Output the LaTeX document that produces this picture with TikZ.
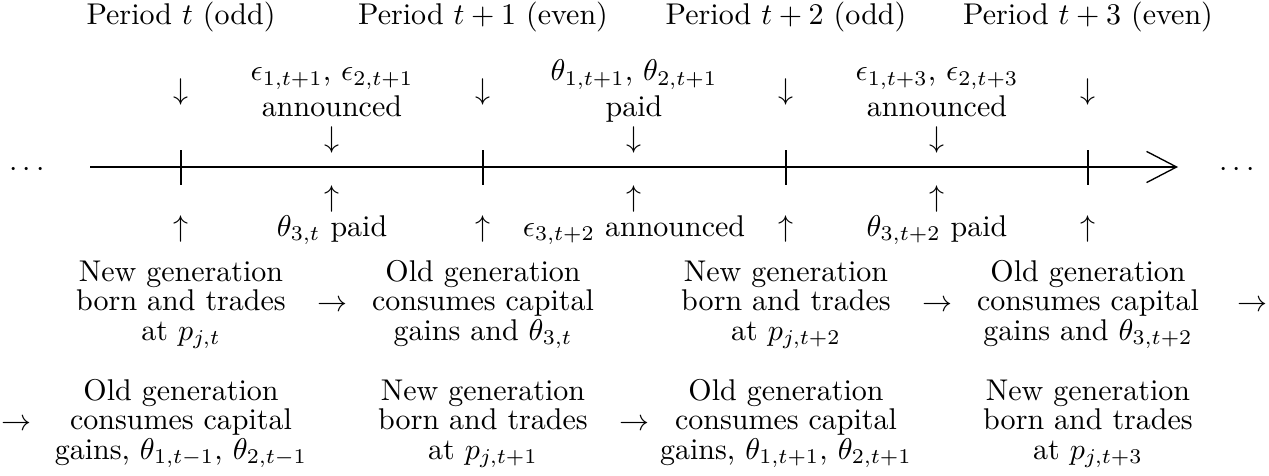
\documentclass[tikz,border=0pt]{standalone}
\usetikzlibrary{arrows.meta}
\begin{document}
\begin{tikzpicture}[x=0.33333pt,y=-0.33333pt,
  txt/.style={inner sep=0pt,outer sep=0pt,anchor=base},
  lab/.style={txt,align=center,text depth=0pt},
  blk/.style={txt,align=center,font=\fontsize{10}{9.7}\selectfont},
  tl/.style={line width=0.5pt},
  tickln/.style={line width=0.45pt}]
\useasboundingbox (0,0) rectangle (1269,476);
% period labels
\node[txt] (p0) at (181,25) {Period $t$ (odd)};
\node[txt] (p1) at (483,25) {Period $t+1$ (even)};
\node[txt] (p2) at (786,25) {Period $t+2$ (odd)};
\node[txt] (p3) at (1088,25) {Period $t+3$ (even)};
% top arrows at ticks
\node[txt] (da0) at (181,100) {$\downarrow$};
\node[txt] (da1) at (483,100) {$\downarrow$};
\node[txt] (da2) at (786,100) {$\downarrow$};
\node[txt] (da3) at (1088,100) {$\downarrow$};
% top middle labels (base = last line)
\node[lab] (e1) at (332,117) {$\epsilon_{1,t+1}$, $\epsilon_{2,t+1}$\\announced};
\node[lab] (th1) at (634,117) {$\theta_{1,t+1}$, $\theta_{2,t+1}$\\paid};
\node[lab] (e3) at (937,117) {$\epsilon_{1,t+3}$, $\epsilon_{2,t+3}$\\announced};
% middle arrows above line
\node[txt] (md0) at (332,147) {$\downarrow$};
\node[txt] (md1) at (634,147) {$\downarrow$};
\node[txt] (md2) at (937,147) {$\downarrow$};
% timeline
\coordinate (ls) at (90,167);
\coordinate (le) at (1178,167);
\draw[tl,-{Straight Barb[length=10pt,width=10.4pt,line width=0.45pt]}] (ls) -- (le);
\foreach \x/\n in {181/0,483/1,786/2,1088/3}{
  \coordinate (tt\n) at (\x,150);
  \coordinate (tb\n) at (\x,185);
  \draw[tickln] (tt\n) -- (tb\n);
}
\node[txt] (dl) at (27,177) {$\cdots$};
\node[txt] (dr) at (1237,177) {$\cdots$};
% middle arrows below line
\node[txt] (mu0) at (332,206) {$\uparrow$};
\node[txt] (mu1) at (634,206) {$\uparrow$};
\node[txt] (mu2) at (937,206) {$\uparrow$};
% bottom arrows at ticks
\node[txt] (ua0) at (181,236) {$\uparrow$};
\node[txt] (ua1) at (483,236) {$\uparrow$};
\node[txt] (ua2) at (786,236) {$\uparrow$};
\node[txt] (ua3) at (1088,236) {$\uparrow$};
% bottom middle labels
\node[txt] (b1) at (332,236) {$\theta_{3,t}$ paid};
\node[txt] (b2) at (634,236) {$\epsilon_{3,t+2}$ announced};
\node[txt] (b3) at (937,236) {$\theta_{3,t+2}$ paid};
% row 1 blocks (base = last line)
\node[blk] (r1a) at (181,340) {New generation\\born and trades\\at $p_{j,t}$};
\node[blk] (r1b) at (483,340) {Old generation\\consumes capital\\gains and $\theta_{3,t}$};
\node[blk] (r1c) at (786,340) {New generation\\born and trades\\at $p_{j,t+2}$};
\node[blk] (r1d) at (1088,340) {Old generation\\consumes capital\\gains and $\theta_{3,t+2}$};
\node[txt] (r1x) at (332,311) {$\rightarrow$};
\node[txt] (r1y) at (937,311) {$\rightarrow$};
\node[txt] (r1z) at (1252,311) {$\rightarrow$};
% row 2 blocks (base = last line)
\node[blk] (r2a) at (181,459) {Old generation\\consumes capital\\gains, $\theta_{1,t-1}$, $\theta_{2,t-1}$};
\node[blk] (r2b) at (483,459) {New generation\\born and trades\\at $p_{j,t+1}$};
\node[blk] (r2c) at (786,459) {Old generation\\consumes capital\\gains, $\theta_{1,t+1}$, $\theta_{2,t+1}$};
\node[blk] (r2d) at (1088,459) {New generation\\born and trades\\at $p_{j,t+3}$};
\node[txt] (r2x) at (17,430) {$\rightarrow$};
\node[txt] (r2y) at (634,430) {$\rightarrow$};
\end{tikzpicture}
\end{document}
